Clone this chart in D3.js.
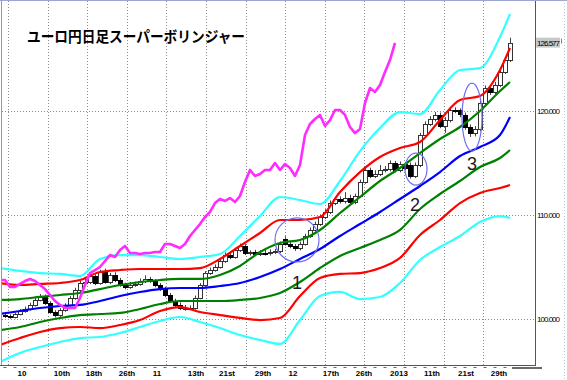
<!DOCTYPE html>
<html>
<head>
<meta charset="utf-8">
<script src="https://cdnjs.cloudflare.com/ajax/libs/d3/7.8.5/d3.min.js"></script>
<style>
body { margin: 0; background: #fff; }
svg { display: block; }
</style>
</head>
<body>
<div id="chart"></div>
<script>
// EUR/JPY daily "super bollinger" chart
var title = "ユーロ円日足スーパーボリンジャー";

var opens = [100.40,100.29,100.19,100.48,100.77,100.96,101.35,101.83,102.12,101.54,
  100.67,100.38,100.87,101.35,102.02,102.79,103.46,103.56,104.13,103.46,
  104.52,103.56,104.23,103.75,103.30,103.08,103.30,103.37,103.65,103.85,
  103.65,103.27,102.88,102.31,101.73,101.35,101.06,101.10,101.06,102.02,
  103.27,104.42,104.71,105.00,105.58,106.15,105.96,106.63,107.02,106.35,
  106.40,106.25,106.35,106.30,106.44,106.50,107.70,107.25,107.02,106.83,
  107.21,107.98,108.56,109.13,109.81,110.29,111.15,111.54,111.35,111.63,
  111.25,111.83,113.17,114.33,113.75,113.94,114.33,114.40,115.00,114.33,
  114.90,114.85,113.75,114.81,117.69,118.75,119.23,119.62,118.56,119.13,
  120.10,120.05,119.62,118.46,117.88,118.27,120.77,122.21,121.83,122.50,
  123.75,124.90];
var closes = [100.29,100.19,100.48,100.77,100.96,101.35,101.83,102.12,101.54,100.67,
  100.38,100.87,101.35,102.02,102.79,103.46,103.56,104.13,103.46,104.52,
  103.56,104.23,103.75,103.30,103.08,103.30,103.37,103.65,103.85,103.65,
  103.27,102.88,102.31,101.73,101.35,101.06,101.10,101.06,102.02,103.27,
  104.42,104.71,105.00,105.58,106.15,105.96,106.63,107.02,106.35,106.40,
  106.25,106.35,106.30,106.44,106.50,107.21,107.25,107.02,106.83,107.21,
  107.98,108.56,109.13,109.81,110.29,111.15,111.54,111.35,111.63,111.25,
  111.83,113.17,114.33,113.75,113.94,114.33,114.40,115.00,114.33,114.90,
  114.52,113.75,114.81,117.69,118.75,119.23,119.62,118.56,119.13,120.10,
  120.05,119.62,118.46,117.88,118.27,120.77,122.21,121.83,122.50,123.75,
  124.90,126.54];
var highs = [100.60,100.45,100.62,100.95,101.20,101.55,102.05,102.40,102.35,101.70,
  100.85,101.05,101.50,102.20,103.00,103.70,103.85,104.40,104.30,104.75,
  104.85,104.45,104.50,103.95,103.50,103.55,103.60,103.90,104.20,104.05,
  103.85,103.45,103.10,102.50,101.95,101.60,101.35,101.30,102.25,103.45,
  104.60,104.95,105.25,105.80,106.40,106.35,106.85,107.25,107.20,106.60,
  106.65,106.60,106.70,106.70,106.75,107.45,107.95,107.45,107.20,107.45,
  108.20,108.80,109.35,110.05,110.55,111.40,111.75,111.80,112.20,111.95,
  112.05,113.40,114.60,114.55,114.30,114.80,114.70,115.25,115.20,115.15,
  115.10,115.05,115.05,117.90,119.00,119.50,119.90,119.85,119.40,120.35,
  120.35,120.25,119.85,118.70,118.55,121.00,122.45,122.45,122.80,124.00,
  125.15,127.05];
var lows = [100.10,100.02,100.05,100.35,100.60,100.80,101.20,101.70,101.35,100.50,
  100.15,100.20,100.70,101.20,101.85,102.60,103.20,103.35,103.25,103.30,
  103.40,103.35,103.55,103.10,102.85,102.90,103.10,103.20,103.45,103.45,
  103.05,102.70,102.10,101.55,101.10,100.85,100.80,100.85,100.90,101.90,
  103.10,104.25,104.55,104.85,105.40,105.75,105.80,106.45,106.15,106.10,
  106.05,106.05,106.10,106.10,106.25,106.35,107.05,106.80,106.55,106.60,
  107.05,107.80,108.40,108.95,109.60,110.10,110.95,111.10,111.10,111.00,
  111.05,111.65,113.00,113.55,113.55,113.75,114.10,114.20,114.10,114.10,
  114.30,113.50,113.55,114.60,117.50,118.55,119.00,118.35,117.90,118.90,
  119.80,119.40,118.20,117.50,117.55,118.05,120.55,121.55,121.60,122.30,
  123.55,124.70];

// bollinger bands, read every 4th bar
var bandIdx = [-1,3,7,11,15,19,23,27,31,35,39,43,47,51,55,59,63,67,71,75,79,83,87,91,95,99,101];
var upper3 = [104.90,104.62,104.42,104.33,104.13,105.77,106.15,106.15,105.96,105.77,105.96,106.25,107.98,109.90,111.73,111.44,111.06,113.27,116.15,118.37,119.90,119.71,122.02,123.94,124.13,127.12,129.33];
var upper2 = [103.46,103.27,103.37,103.46,103.75,104.52,104.71,104.81,104.81,104.81,104.90,105.77,107.02,108.27,109.52,109.52,109.81,112.21,114.13,115.58,116.44,117.02,119.13,121.06,121.44,123.94,126.06];
var upper1 = [101.83,101.92,102.12,102.31,102.50,102.88,103.27,103.56,103.75,103.85,103.85,104.23,105.10,106.44,107.31,107.60,108.56,110.19,111.73,113.27,114.52,115.96,117.31,118.46,120.00,121.92,122.79];
var middle = [100.48,100.77,101.06,101.25,101.35,101.73,102.21,102.60,102.88,102.98,102.98,103.17,103.46,104.04,104.81,105.77,106.73,107.98,109.13,110.29,111.54,112.79,114.13,115.67,116.54,117.69,119.42];
var lower1 = [98.94,99.23,99.71,100.10,100.38,100.48,100.58,100.96,101.44,101.73,101.73,101.73,101.83,102.02,102.50,103.56,104.90,106.06,106.83,107.60,108.56,110.58,112.02,113.27,114.62,115.48,116.25];
var lower2 = [97.50,98.17,98.75,99.13,99.23,99.13,99.42,99.90,100.77,101.15,100.67,100.38,100.10,99.90,100.10,102.21,103.94,104.33,104.42,104.90,105.87,108.08,109.52,111.15,112.12,112.60,112.88];
var lower3 = [95.87,96.73,97.31,97.79,98.17,98.27,98.65,99.23,99.81,100.19,99.71,99.13,98.46,97.98,97.60,99.90,102.21,102.60,101.92,102.12,103.46,105.67,106.92,107.98,109.33,109.90,109.71];

// lagging span (starts one bar left of the first candle)
var lagStart = -1;
var lagging = [103.75,103.75,103.08,103.08,103.37,103.65,103.85,103.65,103.27,102.88,
  102.31,101.73,101.35,101.06,101.06,101.06,102.02,103.27,104.42,104.71,
  105.00,105.58,106.15,105.96,106.63,107.02,106.35,106.35,106.25,106.35,
  106.35,106.44,106.44,107.21,107.21,107.02,106.83,107.21,107.98,108.56,
  109.13,109.81,110.29,111.15,111.54,111.35,111.63,111.25,111.83,113.17,
  114.33,113.75,113.94,114.33,114.33,115.00,114.33,114.90,114.52,113.75,
  114.81,117.69,118.75,119.23,119.62,118.56,119.13,120.10,120.10,119.62,
  118.46,117.88,118.27,120.77,122.21,121.83,122.50,123.75,124.90,126.54];

var xLabels = ["10","10th","18th","26th","11","13th","21st","29th","12","17th","26th","2013","11th","21st","29th"];
var xLabelIdx = [3.4, 11.4, 17.8, 24.4, 30.4, 38.2, 44.4, 51.6, 57.6, 65.2, 71.8, 78.8, 85.4, 92.2, 98.8];
var yTicks = [100, 110, 120];
var lastPrice = 126.577;

// circled spots and their numbers
var marks = ["1", "2", "3"];
var markIdx = [58.4, 82.2, 93.4];
var markPrice = [107.60, 114.42, 119.42];
var markRx = [22, 11, 10];
var markRy = [22, 16, 34];
var markLabelIdx = [58.4, 82.0, 93.4];
var markLabelPrice = [102.9, 110.4, 114.3];

var width = 567, height = 380;
var plot = {left: 2, top: 1, right: 535, bottom: 365};

var svg = d3.select("#chart")
  .append("svg")
    .attr("width", width)
    .attr("height", height);

svg.append("rect")
  .attr("width", width)
  .attr("height", height)
  .attr("fill", "#fff");

var x = d3.scaleLinear().domain([0, 101]).range([5, 510]);
var y = d3.scaleLinear().domain([100, 120]).range([319, 111]);

svg.append("clipPath").attr("id", "clip")
  .append("rect")
    .attr("x", plot.left)
    .attr("y", plot.top)
    .attr("width", plot.right - plot.left)
    .attr("height", plot.bottom - plot.top);

// grid
var gridX = d3.range(0.6, 100, 7.92);
svg.selectAll(".vgrid")
  .data(gridX)
  .enter()
  .append("line")
  .attr("x1", function(d) { return Math.round(x(d)) + 0.5; })
  .attr("x2", function(d) { return Math.round(x(d)) + 0.5; })
  .attr("y1", plot.top)
  .attr("y2", plot.bottom)
  .attr("stroke", "#8a8a8a")
  .attr("stroke-dasharray", "1,2");

svg.selectAll(".hgrid")
  .data(yTicks)
  .enter()
  .append("line")
  .attr("x1", plot.left)
  .attr("x2", plot.right)
  .attr("y1", function(d) { return Math.round(y(d)) + 0.5; })
  .attr("y2", function(d) { return Math.round(y(d)) + 0.5; })
  .attr("stroke", "#8a8a8a")
  .attr("stroke-dasharray", "1,2");

var g = svg.append("g").attr("clip-path", "url(#clip)");

// candles
var bars = d3.range(closes.length);
g.selectAll(".wick")
  .data(bars)
  .enter()
  .append("line")
  .attr("x1", function(i) { return Math.round(x(i)) + 0.5; })
  .attr("x2", function(i) { return Math.round(x(i)) + 0.5; })
  .attr("y1", function(i) { return y(highs[i]); })
  .attr("y2", function(i) { return y(lows[i]); })
  .attr("stroke", "#444");

g.selectAll(".body")
  .data(bars)
  .enter()
  .append("rect")
  .attr("x", function(i) { return Math.round(x(i)) - 2 + 0.5; })
  .attr("width", 4)
  .attr("y", function(i) { return Math.round(y(Math.max(opens[i], closes[i]))) + 0.5; })
  .attr("height", function(i) {
    return Math.max(1, Math.round(Math.abs(y(opens[i]) - y(closes[i]))));
  })
  .attr("fill", function(i) { return closes[i] < opens[i] ? "#000" : "#fff"; })
  .attr("stroke", function(i) { return closes[i] < opens[i] ? "#000" : "#333"; })
  .attr("stroke-width", 1);

// bands
var bandLine = d3.line()
  .x(function(d, k) { return x(bandIdx[k]); })
  .y(function(d) { return y(d); })
  .curve(d3.curveMonotoneX);

var bands = [
  {values: upper3, color: "#33ffff"},
  {values: lower3, color: "#33ffff"},
  {values: upper2, color: "#ff0000"},
  {values: lower2, color: "#ff0000"},
  {values: upper1, color: "#008000"},
  {values: lower1, color: "#008000"},
  {values: middle, color: "#0000ff"}
];

g.selectAll(".band")
  .data(bands)
  .enter()
  .append("path")
  .attr("d", function(b) { return bandLine(b.values); })
  .attr("fill", "none")
  .attr("stroke", function(b) { return b.color; })
  .attr("stroke-width", 2.2);

// lagging span
var lagLine = d3.line()
  .x(function(d, k) { return x(lagStart + k); })
  .y(function(d) { return y(d); });

g.append("path")
  .attr("d", lagLine(lagging))
  .attr("fill", "none")
  .attr("stroke", "#ff2bff")
  .attr("stroke-width", 2.6)
  .attr("stroke-linejoin", "round");

// circled spots
g.selectAll(".mark")
  .data(marks)
  .enter()
  .append("ellipse")
  .attr("cx", function(d, k) { return x(markIdx[k]); })
  .attr("cy", function(d, k) { return y(markPrice[k]); })
  .attr("rx", function(d, k) { return markRx[k]; })
  .attr("ry", function(d, k) { return markRy[k]; })
  .attr("fill", "none")
  .attr("stroke", "#6f6ff0")
  .attr("stroke-width", 1.2);

svg.selectAll(".markLabel")
  .data(marks)
  .enter()
  .append("text")
  .text(function(d) { return d; })
  .attr("x", function(d, k) { return x(markLabelIdx[k]); })
  .attr("y", function(d, k) { return y(markLabelPrice[k]); })
  .attr("text-anchor", "middle")
  .attr("font-family", "Liberation Sans, Arial, sans-serif")
  .attr("font-size", "18px")
  .attr("fill", "#1a1a1a");

// frame
svg.append("line")
  .attr("x1", plot.right + 0.5).attr("x2", plot.right + 0.5)
  .attr("y1", 0).attr("y2", plot.bottom + 1)
  .attr("stroke", "#555");
svg.append("line")
  .attr("x1", 0).attr("x2", plot.right + 1)
  .attr("y1", plot.bottom + 0.5).attr("y2", plot.bottom + 0.5)
  .attr("stroke", "#555");
svg.append("line")
  .attr("x1", 1.5).attr("x2", 1.5)
  .attr("y1", 0).attr("y2", plot.bottom)
  .attr("stroke", "#999");
svg.append("line")
  .attr("x1", 0).attr("x2", width)
  .attr("y1", 0.5).attr("y2", 0.5)
  .attr("stroke", "#9aa6d0");

// bottom axis dashes
svg.selectAll(".xtick")
  .data(d3.range(0, 102, 2))
  .enter()
  .append("line")
  .attr("x1", function(i) { return x(i) - 1.5; })
  .attr("x2", function(i) { return x(i) + 1.5; })
  .attr("y1", plot.bottom + 2.5)
  .attr("y2", plot.bottom + 2.5)
  .attr("stroke", "#666");

svg.append("rect")
  .attr("x", 512).attr("y", plot.bottom + 2)
  .attr("width", 30).attr("height", 2)
  .attr("fill", "#6b6b6b");

svg.selectAll(".xlabel")
  .data(xLabels)
  .enter()
  .append("text")
  .text(function(d) { return d; })
  .attr("x", function(d, k) { return x(xLabelIdx[k]); })
  .attr("y", 376)
  .attr("text-anchor", "middle")
  .attr("font-family", "Liberation Sans, Arial, sans-serif")
  .attr("font-size", "8px")
  .attr("font-weight", "bold")
  .attr("fill", "#000");

// price axis
svg.selectAll(".ylabel")
  .data(yTicks)
  .enter()
  .append("text")
  .text(function(d) { return d3.format(".3f")(d); })
  .attr("x", 537)
  .attr("y", function(d) { return y(d) + 3; })
  .attr("font-family", "Liberation Sans, Arial, sans-serif")
  .attr("font-size", "8px")
  .attr("textLength", 23)
  .attr("fill", "#000");

svg.append("rect")
  .attr("x", 536).attr("y", y(lastPrice) - 5)
  .attr("width", 24).attr("height", 10)
  .attr("fill", "#c8c8c8");
svg.append("text")
  .text(d3.format(".3f")(lastPrice))
  .attr("x", 537)
  .attr("y", y(lastPrice) + 3)
  .attr("font-family", "Liberation Sans, Arial, sans-serif")
  .attr("font-size", "8px")
  .attr("textLength", 23)
  .attr("fill", "#000");
svg.append("line")
  .attr("x1", 561.5).attr("x2", 561.5)
  .attr("y1", y(lastPrice) - 4).attr("y2", y(lastPrice) + 1)
  .attr("stroke", "#ff2bff");

svg.append("line")
  .attr("x1", 564.5).attr("x2", 564.5)
  .attr("y1", 0).attr("y2", height)
  .attr("stroke", "#b8c4dc")
  .attr("stroke-dasharray", "1,2");

// title
svg.append("text")
  .text(title)
  .attr("x", 27)
  .attr("y", 42)
  .attr("font-family", "Noto Sans CJK JP, sans-serif")
  .attr("font-size", "15px")
  .attr("font-weight", "bold")
  .attr("textLength", 218)
  .attr("lengthAdjust", "spacingAndGlyphs")
  .attr("fill", "#000");
</script>
</body>
</html>
